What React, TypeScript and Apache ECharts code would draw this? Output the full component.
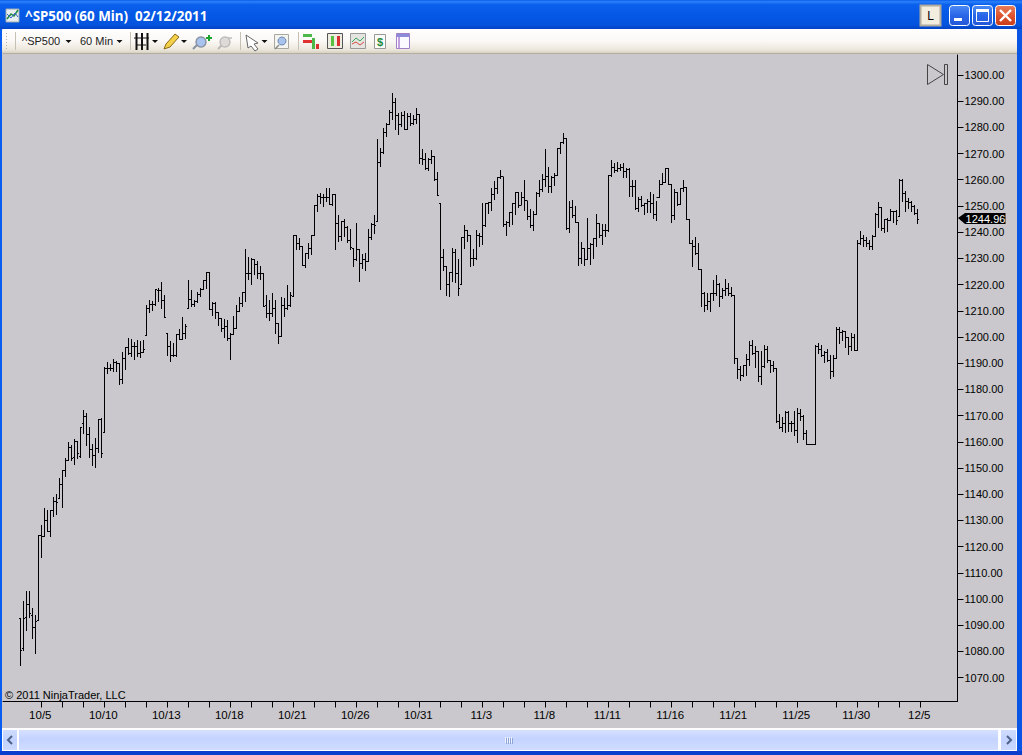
import React, { useEffect, useRef } from "react";
import * as echarts from "echarts";

const titleText = "^SP500 (60 Min)  02/12/2011";
const copyrightText = "© 2011 NinjaTrader, LLC";
const lastPriceText = "1244.96";
const yTicks = [1070,1080,1090,1100,1110,1120,1130,1140,1150,1160,1170,1180,1190,1200,1210,1220,1230,1240,1250,1260,1270,1280,1290,1300];
const xTickBars = [7,14,21,28,35,42,49,56,63,70,77,84,91,98,105,112,119,126,133,140,147,154,161,168,175,182,189,196,203,210,217,224,231,238,245,252,259,272,279,286,293,300];
const xLabelBars = [7,28,49,70,91,112,133,154,175,196,217,238,259,279,300];
const xLabels = ["10/5","10/10","10/13","10/18","10/21","10/26","10/31","11/3","11/8","11/11","11/16","11/21","11/25","11/30","12/5"];

const highs = [
1092.6,1099.2,1103.0,1103.0,1096.2,1093.9,1124.2,1128.2,1134.4,1133.6,1133.8,1138.9,1139.7,1146.0,1149.1,1153.7,1159.9,1158.7,1160.9,1160.3,
1165.6,1171.8,1170.9,1165.3,1158.8,1161.4,1168.7,1168.9,1188.3,1190.2,1189.6,1191.5,1190.6,1190.0,1194.2,1196.1,1199.5,1198.9,1198.0,1198.5,
1198.2,1198.5,1212.0,1214.1,1213.5,1218.3,1218.6,1220.6,1215.7,1201.4,1198.2,1197.6,1201.0,1202.7,1207.5,1204.9,1221.7,1217.6,1213.9,1217.1,
1218.6,1221.4,1224.7,1224.7,1213.1,1213.1,1209.4,1207.1,1206.8,1206.1,1201.4,1207.9,1212.2,1215.2,1217.1,1233.5,1230.3,1229.8,1229.7,1228.8,
1226.9,1224.3,1216.0,1214.1,1216.7,1213.9,1205.2,1215.2,1214.8,1219.6,1217.1,1238.7,1238.7,1237.4,1234.5,1232.0,1235.8,1238.7,1250.2,1254.2,
1254.9,1254.2,1256.8,1256.5,1254.5,1254.5,1246.2,1244.0,1244.9,1242.1,1240.9,1233.9,1243.4,1233.5,1231.3,1232.0,1240.9,1243.4,1246.2,1275.2,
1272.0,1279.4,1281.6,1286.6,1293.0,1291.1,1285.4,1285.8,1286.0,1285.1,1285.1,1284.7,1287.3,1285.0,1271.6,1269.9,1268.2,1271.1,1268.8,1262.9,
1251.0,1233.2,1226.9,1224.6,1233.8,1233.5,1229.4,1237.9,1242.5,1240.8,1238.9,1233.2,1240.8,1239.6,1251.0,1251.0,1251.4,1256.5,1259.5,1260.9,
1263.4,1260.8,1244.0,1247.6,1251.0,1255.1,1255.1,1255.1,1259.9,1251.7,1248.7,1247.8,1255.1,1259.9,1262.1,1271.4,1264.8,1261.2,1262.2,1272.0,
1274.3,1277.7,1275.6,1251.7,1252.0,1249.8,1243.8,1236.1,1233.8,1245.3,1235.8,1237.7,1246.6,1243.4,1242.8,1242.8,1261.8,1267.2,1266.3,1266.7,
1265.9,1266.3,1264.4,1264.4,1259.9,1259.7,1253.2,1253.6,1251.0,1252.3,1255.2,1254.2,1251.6,1259.9,1262.5,1264.4,1264.4,1258.0,1256.4,1255.2,
1256.7,1259.9,1257.1,1245.0,1237.0,1238.0,1235.5,1225.8,1216.9,1216.7,1216.4,1221.5,1223.5,1220.5,1218.6,1222.0,1220.5,1219.0,1215.9,1191.8,
1188.7,1189.3,1193.5,1198.2,1198.7,1196.3,1194.4,1194.4,1196.7,1196.3,1191.2,1190.6,1187.8,1170.5,1169.3,1171.5,1171.5,1167.7,1171.5,1172.8,
1172.4,1170.2,1164.5,1158.8,1158.8,1196.8,1197.6,1196.9,1194.6,1195.3,1192.9,1192.9,1203.6,1203.6,1202.3,1202.0,1199.9,1201.4,1200.8,1237.0,
1240.2,1238.9,1238.0,1236.8,1238.9,1247.2,1251.4,1249.5,1244.7,1245.3,1248.7,1247.8,1248.2,1260.2,1260.2,1255.5,1252.9,1251.6,1250.0,1248.7,
];
const lows = [
1074.5,1080.3,1087.9,1092.9,1084.9,1079.1,1091.9,1115.8,1123.7,1125.8,1123.8,1131.4,1132.1,1138.4,1134.9,1146.6,1152.9,1152.9,1151.3,1153.6,
1153.9,1163.1,1158.5,1153.9,1150.9,1150.1,1156.0,1153.9,1163.6,1185.9,1187.1,1186.8,1186.8,1181.7,1182.1,1187.7,1193.5,1192.4,1191.5,1192.5,
1192.1,1194.0,1200.5,1209.3,1210.1,1212.2,1213.5,1211.0,1207.4,1192.9,1190.6,1192.5,1192.5,1198.9,1199.1,1199.4,1211.0,1211.6,1211.6,1213.3,
1215.4,1218.0,1218.6,1210.3,1208.2,1207.1,1204.2,1202.1,1199.9,1198.6,1191.5,1200.8,1203.3,1209.9,1211.6,1213.5,1222.0,1220.0,1223.7,1222.4,
1221.8,1211.6,1207.4,1206.3,1207.8,1201.4,1197.5,1200.1,1208.0,1210.3,1211.6,1215.4,1233.5,1233.2,1227.2,1226.5,1229.8,1231.6,1238.7,1247.9,
1251.0,1249.8,1251.7,1250.4,1250.2,1233.2,1236.4,1237.0,1238.3,1236.0,1233.2,1226.9,1229.2,1221.1,1226.2,1225.3,1228.8,1237.3,1239.3,1244.0,
1265.0,1270.1,1276.5,1280.9,1282.8,1279.0,1277.1,1280.3,1279.0,1279.0,1280.7,1280.9,1281.6,1266.3,1266.0,1264.0,1263.5,1266.3,1259.7,1254.0,
1218.3,1225.3,1215.8,1215.4,1221.1,1220.9,1216.0,1219.9,1233.8,1236.4,1226.9,1227.2,1229.4,1234.5,1235.1,1242.1,1247.2,1248.2,1252.3,1254.8,
1260.3,1242.1,1238.9,1242.1,1243.1,1246.6,1249.5,1250.4,1248.2,1245.0,1241.7,1240.8,1246.6,1253.6,1255.7,1257.4,1255.1,1255.1,1257.8,1261.8,
1269.9,1273.9,1241.1,1239.8,1245.7,1243.8,1227.2,1228.1,1227.2,1229.4,1227.7,1230.0,1234.5,1238.0,1235.4,1238.3,1240.2,1261.2,1262.9,1263.1,
1263.5,1260.8,1260.8,1253.6,1253.6,1248.7,1247.8,1249.7,1246.6,1247.5,1247.5,1245.3,1244.4,1253.3,1258.0,1259.0,1258.0,1243.6,1245.0,1250.0,
1250.4,1255.5,1245.0,1235.7,1226.8,1231.3,1225.8,1211.6,1209.7,1210.6,1209.7,1214.1,1216.0,1211.6,1214.8,1216.0,1215.8,1215.6,1189.9,1184.0,
1183.3,1184.9,1185.2,1189.3,1193.5,1188.3,1183.2,1181.8,1188.4,1190.3,1186.4,1186.8,1167.3,1165.1,1163.9,1163.6,1163.9,1163.9,1162.3,1159.7,
1168.3,1160.9,1158.8,1158.8,1158.8,1158.8,1193.8,1192.5,1190.2,1190.6,1184.1,1184.9,1191.8,1197.6,1198.6,1196.0,1193.4,1195.0,1194.8,1195.0,
1235.1,1234.5,1234.5,1233.5,1233.5,1238.5,1241.9,1240.8,1239.9,1240.2,1244.3,1243.8,1243.0,1245.9,1251.6,1248.0,1249.1,1247.8,1246.6,1243.2,
];
const opens = [
1092.6,1081.2,1092.9,1098.0,1093.9,1089.2,1091.9,1124.2,1123.7,1129.8,1125.8,1133.8,1137.4,1138.4,1143.8,1148.9,1152.9,1158.0,1153.9,1160.0,
1154.3,1167.0,1169.6,1162.6,1157.1,1154.8,1157.5,1168.6,1163.6,1188.0,1187.8,1188.0,1190.3,1189.7,1183.8,1191.9,1196.1,1193.8,1196.3,1196.3,
1193.8,1194.0,1200.5,1211.0,1212.5,1212.5,1217.6,1217.6,1213.9,1201.4,1196.3,1192.8,1192.8,1201.0,1199.1,1201.4,1211.0,1214.4,1212.5,1213.5,
1216.1,1218.2,1221.4,1224.7,1210.3,1212.9,1209.4,1207.1,1203.3,1204.0,1199.5,1201.0,1203.3,1209.9,1212.9,1216.9,1224.3,1224.3,1229.4,1227.5,
1224.3,1224.3,1212.2,1209.1,1209.1,1211.0,1205.2,1200.1,1212.2,1211.0,1212.2,1215.4,1238.7,1235.5,1234.5,1227.2,1232.0,1233.9,1238.7,1250.2,
1253.6,1253.3,1253.3,1253.3,1250.7,1254.5,1243.4,1238.3,1244.0,1241.9,1237.0,1233.9,1229.4,1233.5,1227.9,1229.4,1228.8,1238.1,1242.8,1244.0,
1266.6,1270.4,1278.1,1281.2,1285.8,1289.6,1284.5,1280.9,1284.7,1279.3,1284.1,1281.6,1283.1,1285.0,1268.2,1267.6,1264.4,1267.6,1268.8,1260.2,
1251.0,1230.3,1226.9,1219.9,1224.6,1232.3,1224.1,1219.9,1237.9,1240.8,1238.6,1230.0,1230.0,1238.9,1238.3,1242.4,1250.8,1251.3,1254.5,1256.8,
1260.9,1261.2,1242.8,1243.6,1247.5,1250.8,1255.1,1250.0,1253.3,1252.0,1245.9,1242.4,1246.6,1254.8,1256.4,1260.2,1261.2,1257.4,1260.9,1261.8,
1272.0,1274.3,1275.6,1241.5,1249.5,1246.2,1243.8,1230.0,1233.8,1229.4,1233.8,1235.1,1237.7,1243.4,1238.9,1240.6,1240.6,1261.5,1264.8,1263.7,
1264.4,1264.8,1263.1,1264.0,1257.6,1257.6,1249.1,1252.3,1250.0,1251.0,1251.6,1250.8,1246.6,1253.3,1258.3,1259.0,1264.4,1258.0,1246.2,1255.2,
1250.4,1256.7,1257.1,1245.0,1235.7,1234.5,1231.9,1225.8,1216.7,1212.2,1213.5,1216.4,1216.4,1220.1,1215.4,1217.9,1218.6,1216.4,1215.9,1191.8,
1187.7,1185.2,1189.3,1191.5,1196.9,1193.8,1194.4,1184.8,1188.7,1195.4,1191.2,1189.3,1187.8,1167.7,1165.5,1167.0,1171.1,1167.0,1167.0,1164.5,
1170.9,1169.6,1163.2,1158.8,1158.8,1158.8,1196.3,1195.3,1193.1,1194.0,1191.2,1186.8,1191.8,1202.7,1201.6,1202.0,1199.9,1196.3,1199.9,1195.0,
1235.5,1237.7,1237.0,1235.7,1234.5,1238.5,1246.9,1249.5,1241.5,1244.7,1244.4,1247.8,1247.8,1245.9,1259.7,1254.8,1251.6,1251.3,1249.7,1247.2,
];
const closes = [
1080.5,1092.6,1098.0,1094.5,1089.2,1091.3,1124.2,1123.7,1129.8,1125.8,1133.8,1137.4,1136.9,1143.8,1148.9,1152.7,1158.0,1153.7,1160.0,1155.6,
1165.5,1169.6,1162.6,1157.1,1154.8,1157.5,1168.6,1155.6,1188.0,1187.8,1188.0,1190.3,1189.7,1183.8,1191.9,1196.1,1193.8,1196.3,1196.3,1193.8,
1194.0,1195.3,1211.0,1212.5,1212.5,1218.0,1217.6,1213.9,1207.4,1196.3,1192.8,1192.8,1201.0,1199.1,1201.4,1204.0,1214.4,1212.5,1213.5,1216.1,
1218.2,1221.4,1224.7,1210.3,1212.9,1209.4,1207.1,1203.3,1204.0,1199.5,1201.0,1203.3,1209.9,1212.9,1216.9,1224.3,1224.3,1229.4,1227.5,1224.3,
1224.3,1211.6,1209.1,1209.1,1211.0,1205.2,1200.1,1212.2,1211.0,1212.2,1215.7,1238.7,1235.5,1234.5,1227.2,1232.0,1233.9,1238.7,1250.2,1253.6,
1253.3,1253.3,1253.3,1250.7,1254.5,1243.4,1238.3,1244.0,1241.9,1237.0,1234.2,1229.4,1233.5,1227.9,1229.4,1228.8,1238.1,1242.8,1242.4,1266.6,
1270.4,1278.1,1281.2,1285.8,1289.6,1284.5,1280.9,1284.7,1279.3,1284.1,1281.6,1283.1,1285.0,1268.2,1267.6,1264.4,1267.6,1268.8,1260.2,1254.0,
1230.3,1226.9,1219.9,1224.6,1232.3,1224.1,1218.6,1237.9,1240.8,1238.6,1230.0,1230.0,1238.9,1238.3,1242.4,1250.8,1251.3,1254.5,1256.8,1260.9,
1261.2,1242.8,1243.6,1247.5,1250.8,1255.1,1250.0,1253.3,1252.0,1245.9,1242.4,1246.6,1254.8,1256.4,1260.2,1261.2,1257.4,1260.9,1261.8,1272.0,
1274.3,1275.6,1241.5,1249.5,1246.2,1243.8,1230.0,1233.8,1229.4,1233.8,1235.1,1237.7,1243.4,1238.9,1240.6,1240.6,1261.5,1264.8,1263.7,1264.4,
1264.8,1263.1,1264.0,1257.6,1257.6,1249.1,1252.3,1250.0,1251.0,1251.6,1250.8,1246.6,1253.3,1258.3,1259.0,1264.4,1258.3,1246.2,1255.2,1250.4,
1256.7,1257.1,1245.0,1235.7,1234.5,1231.9,1225.8,1216.7,1212.2,1213.5,1216.4,1216.4,1220.1,1215.4,1217.9,1218.6,1216.4,1215.9,1191.8,1187.7,
1185.2,1189.3,1191.5,1196.9,1193.8,1194.4,1184.8,1188.7,1195.4,1191.2,1189.3,1187.8,1167.7,1165.5,1167.0,1171.1,1167.0,1167.0,1164.5,1170.9,
1169.6,1163.2,1158.8,1158.8,1158.8,1196.3,1195.3,1193.1,1194.0,1191.2,1186.8,1191.8,1202.7,1201.6,1202.0,1199.9,1196.3,1199.9,1195.0,1235.5,
1237.7,1237.0,1235.7,1234.5,1238.3,1246.9,1249.5,1241.5,1244.7,1244.4,1247.8,1247.8,1244.3,1259.7,1254.8,1251.6,1251.3,1249.7,1247.2,1244.96,
];

const ohlcRows = closes.map((c, i) => [i, opens[i], c, lows[i], highs[i]]);

const UI_FONT = '"Liberation Sans", Arial, sans-serif';
const grad = (stops: [number, string][], horizontal = false) =>
  new echarts.graphic.LinearGradient(0, 0, horizontal ? 1 : 0, horizontal ? 0 : 1, stops.map(([offset, color]) => ({ offset, color })));

const rect = (x: number, y: number, w: number, h: number, fill: any, extra: any = {}) => ({
  type: "rect", shape: { x, y, width: w, height: h, r: extra.r || 0 }, silent: true,
  style: { fill, stroke: extra.stroke, lineWidth: extra.lineWidth ?? (extra.stroke ? 1 : 0) },
});
const ln = (x1: number, y1: number, x2: number, y2: number, stroke: string, lineWidth = 1) => ({
  type: "line", shape: { x1, y1, x2, y2 }, silent: true, style: { stroke, lineWidth },
});
const poly = (points: number[][], fill: string, stroke?: string) => ({
  type: "polygon", shape: { points }, silent: true, style: { fill, stroke, lineWidth: stroke ? 1 : 0 },
});
const txt = (text: string, x: number, y: number, font: string, fill: string, align = "left", extra: any = {}) => ({
  type: "text", silent: true,
  style: { text, x, y, font, fill, textAlign: align, textVerticalAlign: "middle", ...extra },
});
const caret = (x: number, y = 40) => poly([[x - 3, y], [x + 3, y], [x, y + 3]], "#111");

function chromeElements() {
  const els: any[] = [];
  // window frame
  els.push(rect(0, 0, 1022, 29, grad([[0, "#0A5CEC"], [0.06, "#2A80F8"], [0.16, "#0A60EC"], [0.5, "#0558E6"], [0.85, "#0453DE"], [1, "#0344C4"]])));
  els.push(rect(0, 29, 2, 726, "#0A5CF0"));
  els.push(rect(1017, 29, 5, 726, "#0A55E4"));
  els.push(rect(0, 751, 1022, 4, "#0A3ECC"));
  // title icon and text
  els.push(rect(6, 9, 13, 13, "#E8EEF0", { stroke: "#9AA8B0" }));
  els.push({ type: "polyline", silent: true, shape: { points: [[7, 19], [11, 14], [14, 16], [18, 10]] }, style: { stroke: "#1F8A3B", lineWidth: 1.5, fill: "none" } });
  els.push({ type: "polyline", silent: true, shape: { points: [[7, 14], [11, 18], [15, 13], [18, 17]] }, style: { stroke: "#3464C8", lineWidth: 1, fill: "none" } });
  els.push(txt(titleText, 25, 16, 'bold 13.4px "Noto Sans", "DejaVu Sans", sans-serif', "#FFFFFF", "left", { shadowColor: "#0A2A80", shadowOffsetX: 1, shadowOffsetY: 1, shadowBlur: 0 }));
  // title buttons
  els.push(rect(920.5, 5.5, 20, 20, "#F2EDDF", { stroke: "#B4AC9C", lineWidth: 2 }));
  els.push(txt("L", 930.5, 16, `12px ${UI_FONT}`, "#000", "center"));
  const blueBtn = grad([[0, "#4C8CF4"], [0.5, "#2A66E8"], [1, "#2458D8"]]);
  els.push(rect(949.5, 5.5, 20, 20, blueBtn, { stroke: "#FFFFFF", r: 3 }));
  els.push(rect(954, 18, 8, 3, "#FFFFFF"));
  els.push(rect(972.5, 5.5, 20, 20, blueBtn, { stroke: "#FFFFFF", r: 3 }));
  els.push(rect(976.5, 9.5, 12, 12, "none", { stroke: "#FFFFFF" }));
  els.push(rect(976, 9, 13, 3, "#FFFFFF"));
  els.push(rect(995.5, 5.5, 20, 20, grad([[0, "#E8805C"], [0.5, "#DE5430"], [1, "#C83C18"]]), { stroke: "#FFFFFF", r: 3 }));
  els.push(ln(1000, 10, 1011, 21, "#FFFFFF", 2.4));
  els.push(ln(1011, 10, 1000, 21, "#FFFFFF", 2.4));
  // toolbar
  els.push(rect(2, 29, 1015, 24, grad([[0, "#FFFEFD"], [0.5, "#FBF8F6"], [0.85, "#EDE8DD"], [1, "#D8D2C4"]]), { r: 2 }));
  els.push(ln(3, 53.5, 1017, 53.5, "#B4AE9F"));
  [33, 36, 39, 42, 45, 48].forEach((y) => els.push(rect(6, y, 1, 1, "#B8B2A4")));
  [15.5, 130.5, 240.5, 298.5].forEach((x) => els.push(ln(x, 32, x, 50, "#C5C1B4")));
  els.push(txt("^SP500", 22, 41, `11px ${UI_FONT}`, "#222"));
  els.push(caret(68.5));
  els.push(txt("60 Min", 80, 41, `11px ${UI_FONT}`, "#222"));
  els.push(caret(119.5));
  // bar-style icon
  [136.5, 142, 147.5].forEach((x) => els.push(ln(x, 33, x, 50, "#111", 2)));
  els.push(ln(134, 38, 149, 38, "#111", 1), ln(137, 45, 146, 45, "#111", 1));
  els.push(caret(155));
  // pencil
  els.push(poly([[164, 49], [166, 44], [175, 34], [179, 37], [170, 47]], "#F4CF48", "#8A6A1A"));
  els.push(caret(184));
  // zoom in / out
  els.push(ln(193, 49, 198, 44, "#8890A0", 2));
  els.push({ type: "circle", silent: true, shape: { cx: 201, cy: 42, r: 5 }, style: { fill: "#A8C4EE", stroke: "#8A94A4", lineWidth: 1.5 } });
  els.push(ln(206, 38, 212, 38, "#1BA52E", 2), ln(209, 35, 209, 41, "#1BA52E", 2));
  els.push(ln(218, 49, 223, 44, "#B8B8B8", 2));
  els.push({ type: "circle", silent: true, shape: { cx: 225, cy: 42, r: 5 }, style: { fill: "#DDDAD8", stroke: "#C0BEBC", lineWidth: 1.5 } });
  els.push(ln(228, 38, 232, 38, "#BDBDBD", 1.5));
  // cursor
  els.push(poly([[246, 35], [258, 43], [254, 44], [258, 49], [255, 51], [251, 46], [248, 48]], "#FFFFFF", "#666"));
  els.push(caret(264.5));
  // magnifier box
  els.push(rect(274.5, 34.5, 14, 14, "#F4F4F0", { stroke: "#A8A8A0" }));
  els.push(ln(275, 49, 279, 45, "#888", 1.5));
  els.push({ type: "circle", silent: true, shape: { cx: 282, cy: 41, r: 4 }, style: { fill: "#A8C4EE", stroke: "#7088B0", lineWidth: 1 } });
  // toolbar chart icons
  els.push(rect(303, 34, 9, 3, "#4CB848"), rect(303, 40, 9, 3, "#E03030"), rect(312, 38, 3, 11, "#4CB848"), rect(316, 44, 3, 5, "#D83030"));
  els.push(rect(327.5, 33.5, 15, 15, "#EEEBE0", { stroke: "#555" }));
  els.push(rect(331, 36, 3, 10, "#58C040"), rect(337, 36, 3, 10, "#D83030"));
  els.push(rect(350.5, 33.5, 15, 15, "#E4E4E0", { stroke: "#999" }));
  els.push({ type: "polyline", silent: true, shape: { points: [[352, 42], [356, 38], [360, 41], [364, 37]] }, style: { stroke: "#3AA85A", lineWidth: 1, fill: "none" } });
  els.push({ type: "polyline", silent: true, shape: { points: [[352, 44], [356, 42], [360, 45], [364, 42]] }, style: { stroke: "#D84848", lineWidth: 1, fill: "none" } });
  els.push(rect(374.5, 34.5, 11, 14, "#FBFBF8", { stroke: "#999" }));
  els.push(txt("$", 380, 42, `bold 11px ${UI_FONT}`, "#1F8A3B", "center"));
  els.push(rect(396.5, 33.5, 13, 15, "#FAFAFF", { stroke: "#A080C8" }));
  els.push(rect(397, 34, 12, 3, "#8C8CD8"), rect(398, 37, 2, 11, "#C0A0E0"));
  // chart annotations
  els.push(poly([[927.5, 64.5], [927.5, 84.5], [943.5, 74.5]], "none", "#444"));
  els.push(rect(944.5, 64.5, 3, 20, "none", { stroke: "#444" }));
  els.push(txt(copyrightText, 5, 695, `11px ${UI_FONT}`, "#000"));
  els.push(poly([[958, 218], [965, 213], [1005.5, 213], [1005.5, 224], [965, 224]], "#000"));
  els.push(txt(lastPriceText, 985.5, 218.5, `11px ${UI_FONT}`, "#FFFFFF", "center"));
  // scrollbar
  const track = grad([[0, "#D0DCFF"], [0.5, "#C2D2FF"], [1, "#CCD9FF"]]);
  els.push(rect(2, 728, 1015, 23, "#FDFDFF"));
  els.push(rect(3, 730, 14, 20, track));
  els.push(rect(19, 730, 979, 20, grad([[0, "#D6E0FF"], [0.45, "#C4D3FF"], [1, "#D0DCFF"]])));
  els.push(rect(1001, 730, 15, 20, track));
  els.push({ type: "polyline", silent: true, shape: { points: [[12, 736], [8, 740], [12, 744]] }, style: { stroke: "#4D6185", lineWidth: 2, fill: "none" } });
  els.push({ type: "polyline", silent: true, shape: { points: [[1007, 736], [1011, 740], [1007, 744]] }, style: { stroke: "#4D6185", lineWidth: 2, fill: "none" } });
  [505, 507, 509, 511].forEach((x) => els.push(ln(x + 0.5, 737, x + 0.5, 743, "#EEF2FF"), ln(x + 1.5, 738, x + 1.5, 744, "#8CA4D8")));
  return els;
}

function renderBar(_params: any, api: any) {
  const [px, openY] = api.coord([api.value(0), api.value(1)]);
  const closeY = api.coord([api.value(0), api.value(2)])[1];
  const lowY = api.coord([api.value(0), api.value(3)])[1];
  const highY = api.coord([api.value(0), api.value(4)])[1];
  const x = Math.round(px - 0.5) + 0.5;
  const o = Math.round(openY - 0.5) + 0.5;
  const c = Math.round(closeY - 0.5) + 0.5;
  const top = Math.round(highY - 0.5);
  const bottom = Math.max(Math.round(lowY - 0.5) + 1, top + 1);
  const style = { stroke: "#000", lineWidth: 1 };
  return {
    type: "group",
    silent: true,
    children: [
      { type: "line", shape: { x1: x, y1: top, x2: x, y2: bottom }, style },
      { type: "line", shape: { x1: x - 1.5, y1: o, x2: x, y2: o }, style },
      { type: "line", shape: { x1: x, y1: c, x2: x + 1.5, y2: c }, style },
    ],
  };
}

export default function App() {
  const ref = useRef<HTMLDivElement>(null);
  useEffect(() => {
    const chart = echarts.init(ref.current!, undefined, { renderer: "svg" });
    chart.setOption({
      animation: false,
      backgroundColor: "#CAC8CC",
      grid: { left: 3, top: 55, width: 954.5, height: 646.5, containLabel: false },
      xAxis: {
        type: "value",
        min: -5.77,
        max: 312.4,
        position: "bottom",
        splitLine: { show: false },
        axisLine: { show: true, onZero: false, lineStyle: { color: "#000", width: 1 } },
        axisTick: { show: true, length: 6, lineStyle: { color: "#000", width: 1 }, customValues: xTickBars },
        axisLabel: {
          show: true,
          margin: 7,
          padding: [0, 2, 0, 0],
          color: "#000",
          fontFamily: "Liberation Sans",
          fontSize: 11.5,
          customValues: xLabelBars,
          formatter: (v: number) => xLabels[xLabelBars.indexOf(v)] ?? "",
        },
      },
      yAxis: {
        type: "value",
        position: "right",
        min: 1060.9,
        max: 1307.6,
        splitLine: { show: false },
        axisLine: { show: true, onZero: false, lineStyle: { color: "#000", width: 1 } },
        axisTick: { show: true, length: 6, lineStyle: { color: "#000", width: 1 }, customValues: yTicks },
        axisLabel: {
          show: true,
          margin: 7,
          color: "#000",
          fontFamily: "Liberation Sans",
          fontSize: 11,
          customValues: yTicks,
          formatter: (v: number) => v.toFixed(2),
        },
      },
      series: [
        {
          type: "custom",
          renderItem: renderBar,
          data: ohlcRows,
          encode: { x: 0, y: [1, 2, 3, 4] },
          clip: false,
          silent: true,
        },
      ],
      graphic: { elements: chromeElements() },
    });
    return () => chart.dispose();
  }, []);
  return <div ref={ref} style={{ position: "fixed", left: 0, top: 0, width: 1022, height: 755 }} />;
}
